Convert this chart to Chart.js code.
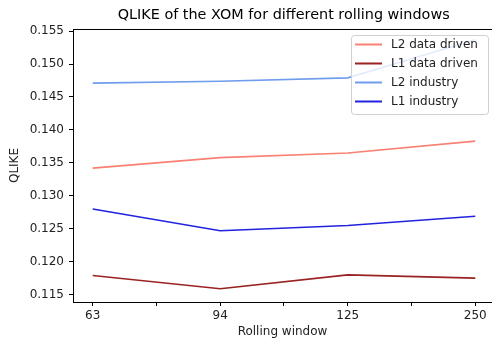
<!DOCTYPE html>
<html>
<head>
<meta charset="utf-8">
<script src="https://cdn.jsdelivr.net/npm/chart.js@4/dist/chart.umd.min.js"></script>
<style>
  html, body { margin: 0; padding: 0; background: #fff; overflow: hidden; }
</style>
</head>
<body>
<canvas id="qlike-chart" width="492" height="344" style="width:492px;height:344px;display:block"></canvas>
<script>
// Data
const windows = ['63', '94', '125', '250'];
const l2DataDriven = [0.1342, 0.1358, 0.1365, 0.1383];
const l1DataDriven = [0.1179, 0.1159, 0.1180, 0.1175];
const l2Industry = [0.1471, 0.1474, 0.1479, 0.1537];
const l1Industry = [0.1280, 0.1247, 0.1255, 0.1269];
const yTicks = [0.115, 0.120, 0.125, 0.130, 0.135, 0.140, 0.145, 0.150, 0.155];

const FONT = 'DejaVu Sans';
const toPoints = vals => vals.map((v, i) => ({ x: i, y: v }));

const series = [
    { label: 'L2 data driven', data: l2DataDriven, color: '#fa8072' },
    { label: 'L1 data driven', data: l1DataDriven, color: '#9a2222' },
    { label: 'L2 industry', data: l2Industry, color: '#6f9ced' },
    { label: 'L1 industry', data: l1Industry, color: '#2222e0' }
];

// title, top spine and legend box drawn like matplotlib
const decorations = {
    id: 'decorations',
    afterDraw(chart) {
        const ctx = chart.ctx;
        const area = chart.chartArea;
        ctx.save();
        // the right spine sits just outside the cropped figure
        ctx.fillStyle = '#fff';
        ctx.fillRect(489, area.top + 1, 4, area.bottom - area.top - 1.5);
        ctx.strokeStyle = '#000';
        ctx.lineWidth = 1;
        ctx.beginPath();
        ctx.moveTo(area.left, area.top + 0.5);
        ctx.lineTo(492, area.top + 0.5);
        ctx.stroke();

        ctx.fillStyle = '#000';
        ctx.font = '14.4px "' + FONT + '"';
        ctx.textAlign = 'center';
        ctx.textBaseline = 'middle';
        ctx.fillText('QLIKE of the XOM for different rolling windows', 283.7, 15);

        // legend
        const bx = 351.5, by = 35.5, bw = 137, bh = 79;
        ctx.fillStyle = 'rgba(255,255,255,0.8)';
        ctx.strokeStyle = '#d0d0d0';
        ctx.beginPath();
        ctx.roundRect(bx, by, bw, bh, 3);
        ctx.fill();
        ctx.stroke();
        ctx.font = '12px "' + FONT + '"';
        ctx.textAlign = 'left';
        series.forEach((s, i) => {
            const y = 44.5 + i * 19;
            ctx.strokeStyle = s.color;
            ctx.lineWidth = 2;
            ctx.beginPath();
            ctx.moveTo(355, y);
            ctx.lineTo(382, y);
            ctx.stroke();
            ctx.fillStyle = '#222';
            ctx.fillText(s.label, 391, y + 0.5);
        });
        ctx.restore();
    }
};

const ctx = document.getElementById('qlike-chart').getContext('2d');
new Chart(ctx, {
    type: 'line',
    data: {
        datasets: series.map(s => ({
            label: s.label,
            data: toPoints(s.data),
            borderColor: s.color,
            backgroundColor: s.color,
            borderWidth: 1.6,
            pointRadius: 0,
            tension: 0,
            fill: false
        }))
    },
    options: {
        responsive: false,
        animation: false,
        layout: { padding: { top: 29, right: 0, left: 0, bottom: 0 } },
        plugins: {
            legend: { display: false },
            tooltip: { enabled: false },
            title: { display: false }
        },
        scales: {
            x: {
                type: 'linear',
                min: -0.1545,
                max: 3.131,
                afterBuildTicks: scale => {
                    scale.ticks = [0, 0.5, 1, 1.5, 2, 2.5, 3].map(v => ({ value: v }));
                },
                afterFit: scale => { scale.height = 42; },
                ticks: {
                    autoSkip: false,
                    maxRotation: 0,
                    padding: 3,
                    color: '#222',
                    font: { family: FONT, size: 12 },
                    callback: v => Number.isInteger(v) ? windows[v] : ''
                },
                grid: {
                    drawOnChartArea: false,
                    tickLength: 4,
                    tickWidth: 1,
                    tickColor: '#000'
                },
                border: { color: '#000', width: 1 },
                title: {
                    display: true,
                    text: 'Rolling window',
                    color: '#222',
                    font: { family: FONT, size: 12 },
                    padding: { top: 0, bottom: 5 }
                }
            },
            y: {
                min: 0.11388,
                max: 0.15532,
                afterBuildTicks: scale => {
                    scale.ticks = yTicks.map(v => ({ value: v }));
                },
                afterFit: scale => { scale.width = 73; },
                ticks: {
                    padding: 5,
                    color: '#222',
                    font: { family: FONT, size: 12 },
                    callback: v => v.toFixed(3)
                },
                grid: {
                    drawOnChartArea: false,
                    tickLength: 4,
                    tickWidth: 1,
                    tickColor: '#000'
                },
                border: { color: '#000', width: 1 },
                title: {
                    display: true,
                    text: 'QLIKE',
                    color: '#222',
                    font: { family: FONT, size: 12 },
                    padding: { top: 8, bottom: 0 }
                }
            }
        }
    },
    plugins: [decorations]
});
</script>
</body>
</html>
